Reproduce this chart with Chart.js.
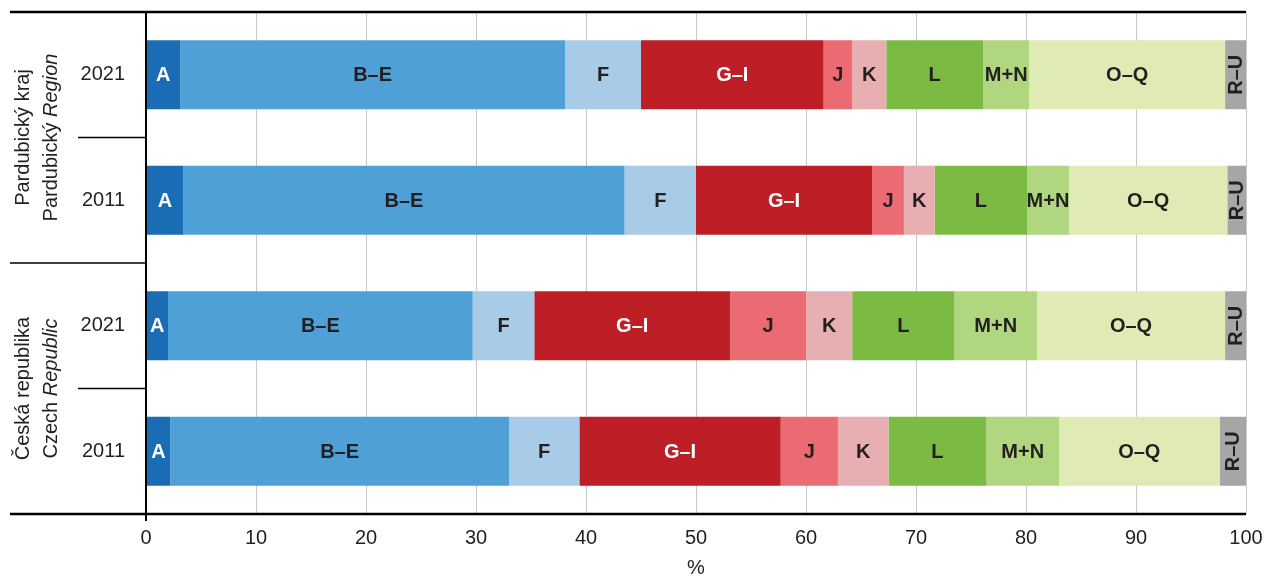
<!DOCTYPE html>
<html>
<head>
<meta charset="utf-8">
<script src="https://cdn.jsdelivr.net/npm/chart.js@4"></script>
<style>
  html, body { margin: 0; padding: 0; background: #fff; }
  #wrap { width: 1267px; height: 576px; position: relative; }
</style>
</head>
<body>
<div id="wrap"><canvas id="chart"></canvas></div>
<script>
// rows top to bottom
const years = ['2021', '2011', '2021', '2011'];
const groupLines = [['Pardubický kraj', 'Pardubický Region'], ['Česká republika', 'Czech Republic']];
const sections = ['A', 'B–E', 'F', 'G–I', 'J', 'K', 'L', 'M+N', 'O–Q', 'R–U'];

// shares in %, per section, rows in order of `years`
const sectionA = [3.1, 3.4, 2.0, 2.2];
const sectionBE = [35.0, 40.1, 27.7, 30.8];
const sectionF = [6.9, 6.5, 5.6, 6.4];
const sectionGI = [16.6, 16.0, 17.8, 18.3];
const sectionJ = [2.6, 2.9, 6.9, 5.2];
const sectionK = [3.1, 2.8, 4.2, 4.6];
const sectionL = [8.8, 8.4, 9.3, 8.9];
const sectionMN = [4.2, 3.8, 7.5, 6.6];
const sectionOQ = [17.8, 14.4, 17.1, 14.6];
const sectionRU = [1.9, 1.7, 1.9, 2.4];
const xTicks = [0, 10, 20, 30, 40, 50, 60, 70, 80, 90, 100];

const seriesValues = [sectionA, sectionBE, sectionF, sectionGI, sectionJ, sectionK, sectionL, sectionMN, sectionOQ, sectionRU];
const fills = ['#1a6db5', '#50a0d8', '#a8cbe8', '#be1e25', '#eb6b73', '#e8afb3', '#7cbb43', '#b1d680', '#dfeab5', '#a6a6a6'];
const labelColours = ['#fff', '#231f20', '#231f20', '#fff', '#231f20', '#231f20', '#231f20', '#231f20', '#231f20', '#231f20'];

const FONT = '"Liberation Sans", Arial, sans-serif';
const INK = '#231f20';

// section names written inside the bar segments
const segmentLabels = {
  id: 'segmentLabels',
  afterDatasetsDraw(chart) {
    const ctx = chart.ctx;
    ctx.save();
    ctx.font = 'bold 20px ' + FONT;
    ctx.textBaseline = 'middle';
    ctx.textAlign = 'center';
    chart.data.datasets.forEach((ds, i) => {
      chart.getDatasetMeta(i).data.forEach(bar => {
        const cx = (bar.x + bar.base) / 2;
        ctx.fillStyle = labelColours[i];
        if (ds.label === 'R–U') {
          ctx.save();
          ctx.translate(cx + 1, bar.y);
          ctx.rotate(-Math.PI / 2);
          ctx.fillText(ds.label, 0, 0);
          ctx.restore();
        } else {
          ctx.fillText(ds.label, cx, bar.y + 1);
        }
      });
    });
    ctx.restore();
  }
};

// frame lines, row separators, region names and axis title
const frame = {
  id: 'frame',
  afterDraw(chart) {
    const ctx = chart.ctx;
    const area = chart.chartArea;
    const y = chart.scales.y;
    const rowY = years.map((_, i) => y.getPixelForTick(i));
    ctx.save();
    ctx.strokeStyle = '#000';

    ctx.lineWidth = 2.5;
    ctx.beginPath();
    ctx.moveTo(10, area.top); ctx.lineTo(area.right, area.top);
    ctx.moveTo(10, area.bottom); ctx.lineTo(area.right, area.bottom);
    ctx.stroke();

    ctx.lineWidth = 2;
    ctx.beginPath();
    ctx.moveTo(area.left, area.top); ctx.lineTo(area.left, area.bottom + 7);
    ctx.stroke();

    ctx.lineWidth = 1.5;
    ctx.beginPath();
    const mid01 = (rowY[0] + rowY[1]) / 2;
    const mid12 = (rowY[1] + rowY[2]) / 2;
    const mid23 = (rowY[2] + rowY[3]) / 2;
    ctx.moveTo(78, mid01); ctx.lineTo(area.left, mid01);
    ctx.moveTo(10, mid12); ctx.lineTo(area.left, mid12);
    ctx.moveTo(78, mid23); ctx.lineTo(area.left, mid23);
    ctx.stroke();

    ctx.fillStyle = INK;
    ctx.textAlign = 'center';
    ctx.textBaseline = 'middle';
    const groupCentres = [(area.top + mid12) / 2, (mid12 + area.bottom) / 2];
    groupLines.forEach((lines, g) => {
      const [first, second] = lines;
      const words = second.split(' ');
      ctx.save();
      ctx.translate(23, groupCentres[g]);
      ctx.rotate(-Math.PI / 2);
      ctx.font = '20px ' + FONT;
      ctx.fillText(first, 0, 0);
      // second line: first word upright, second word italic
      const w1 = ctx.measureText(words[0] + ' ').width;
      ctx.font = 'italic 20px ' + FONT;
      const w2 = ctx.measureText(words[1]).width;
      const start = -(w1 + w2) / 2;
      ctx.textAlign = 'left';
      ctx.font = '20px ' + FONT;
      ctx.fillText(words[0] + ' ', start, 28);
      ctx.font = 'italic 20px ' + FONT;
      ctx.fillText(words[1], start + w1, 28);
      ctx.restore();
    });

    ctx.font = '20px ' + FONT;
    ctx.textAlign = 'center';
    ctx.fillText('%', (area.left + area.right) / 2, 568);
    ctx.restore();
  }
};

new Chart(document.getElementById('chart'), {
  type: 'bar',
  data: {
    labels: years,
    datasets: sections.map((name, i) => ({
      label: name,
      data: seriesValues[i],
      backgroundColor: fills[i],
      borderWidth: 0,
      barPercentage: 0.55,
      categoryPercentage: 1
    }))
  },
  options: {
    indexAxis: 'y',
    responsive: true,
    maintainAspectRatio: false,
    animation: false,
    layout: { padding: { top: 12, right: 21, left: 0, bottom: 0 } },
    plugins: {
      legend: { display: false },
      tooltip: { enabled: false }
    },
    scales: {
      x: {
        stacked: true,
        min: 0,
        max: 100,
        afterBuildTicks: scale => { scale.ticks = xTicks.map(v => ({ value: v })); },
        afterFit: scale => {
          scale.height = 62;
          scale.paddingLeft = 0;
          scale.paddingRight = 0;
        },
        grid: { color: '#c8c8c8', lineWidth: 1, drawTicks: false },
        border: { display: false },
        ticks: { color: INK, font: { family: FONT, size: 20 }, padding: 12, maxRotation: 0 }
      },
      y: {
        stacked: true,
        afterFit: scale => {
          scale.width = 146;
          scale.paddingTop = 0;
          scale.paddingBottom = 0;
        },
        grid: { display: false, drawTicks: false },
        border: { display: false },
        ticks: { color: INK, font: { family: FONT, size: 20 }, padding: 21 }
      }
    }
  },
  plugins: [segmentLabels, frame]
});
</script>
</body>
</html>
